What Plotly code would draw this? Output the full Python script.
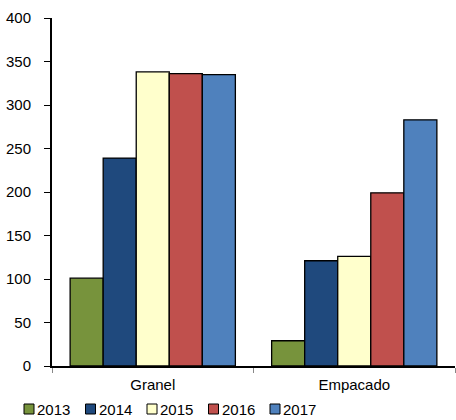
import plotly.graph_objects as go

categories = ["Granel", "Empacado"]
years = ["2013", "2014", "2015", "2016", "2017"]
values = {
    "2013": [101, 29],
    "2014": [239, 121],
    "2015": [338, 126],
    "2016": [336, 199],
    "2017": [335, 283],
}
colors = ["#77933C", "#1F497D", "#FFFFCC", "#C0504D", "#4F81BD"]

FONT = "Liberation Sans, Arial, sans-serif"
FS = 15
W, H = 456, 420
ML, MR, MT, MB = 52, 1, 18, 54
PW, PH = W - ML - MR, H - MT - MB

fig = go.Figure()
for year, color in zip(years, colors):
    fig.add_trace(go.Bar(
        name=year,
        x=categories,
        y=values[year],
        marker=dict(color=color, line=dict(color="#000000", width=1.3)),
        showlegend=False,
    ))

# Compact legend row under the axis: small outlined squares followed by the year
def px_to_paper_x(px):
    return (px - ML) / PW

def px_to_paper_y(py):
    return (H - MB - py) / PH

shapes = []
annotations = []
sq = 10
row_y = 409
for i, (year, color) in enumerate(zip(years, colors)):
    left = 24 + 61.5 * i
    shapes.append(dict(
        type="rect", xref="paper", yref="paper",
        x0=px_to_paper_x(left), x1=px_to_paper_x(left + sq),
        y0=px_to_paper_y(row_y + sq / 2), y1=px_to_paper_y(row_y - sq / 2),
        fillcolor=color, line=dict(color="#000000", width=1),
    ))
    annotations.append(dict(
        text=year, xref="paper", yref="paper",
        x=px_to_paper_x(left + sq + 1), y=px_to_paper_y(row_y),
        xanchor="left", yanchor="middle", showarrow=False,
        font=dict(family=FONT, size=FS, color="#000000"),
    ))

fig.update_layout(
    width=W,
    height=H,
    margin=dict(l=ML, r=MR, t=MT, b=MB),
    paper_bgcolor="white",
    plot_bgcolor="white",
    barmode="group",
    bargap=0.18,
    bargroupgap=0,
    font=dict(family=FONT, size=FS, color="#000000"),
    showlegend=False,
    shapes=shapes,
    annotations=annotations,
    xaxis=dict(
        showline=True,
        linecolor="#000000",
        linewidth=2,
        ticks="outside",
        tickson="boundaries",
        ticklen=5,
        tickcolor="#888888",
        showgrid=False,
        ticklabelstandoff=4,
        tickfont=dict(family=FONT, size=FS),
    ),
    yaxis=dict(
        range=[0, 400],
        dtick=50,
        showline=True,
        linecolor="#000000",
        linewidth=2,
        ticks="outside",
        ticklen=6,
        tickcolor="#000000",
        ticklabelstandoff=10,
        showgrid=False,
        zeroline=False,
        tickfont=dict(family=FONT, size=FS),
    ),
)

fig.write_html("out.html")
